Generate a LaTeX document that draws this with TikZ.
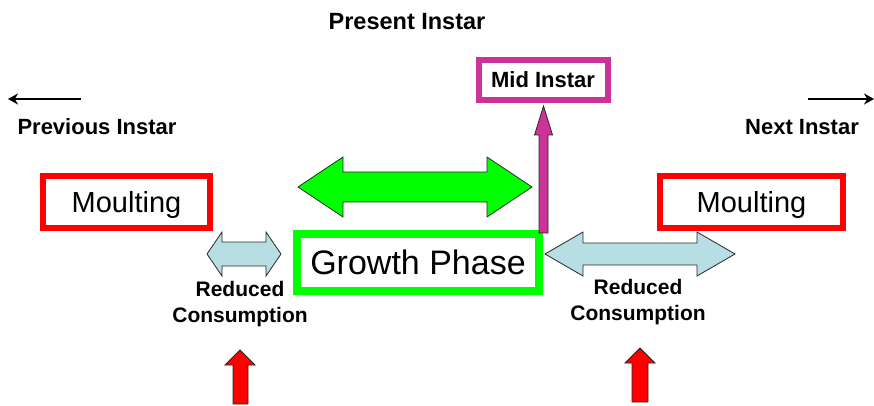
\documentclass[tikz,border=0pt]{standalone}
\usepackage{fontspec}
\setmainfont{Liberation Sans}
\usepackage{tikz}
\usetikzlibrary{arrows.meta,positioning,calc}

\definecolor{midpink}{RGB}{204,51,153}
\definecolor{consblue}{RGB}{183,222,226}
\definecolor{outl}{RGB}{40,40,40}

\begin{document}
\begin{tikzpicture}[x=1pt, y=-1pt,
    lbl/.style={font=\fontsize{22}{26}\selectfont\bfseries, align=center, inner sep=0pt},
    moult/.style={draw=red, line width=6pt, minimum width=170pt, minimum height=52pt, text depth=0pt, font=\fontsize{29}{32}\selectfont},
    blockarrow/.style={draw=outl, line width=0.8pt, line join=miter}]
    \useasboundingbox (0,0) rectangle (874,406);

    % stages along the top
    \node[lbl, font=\fontsize{23.5}{26}\selectfont\bfseries] (present) at (407,22) {Present Instar};
    \node[lbl] (prev) at (97,127) {Previous Instar};
    \node[lbl] (next) at (802,127) {Next Instar};
    \coordinate (prevstart) at (81,99);
    \coordinate (prevend) at (8,99);
    \coordinate (nextstart) at (808,99);
    \coordinate (nextend) at (874,99);
    \draw[line width=2pt, -{Stealth[length=10pt,width=11pt]}] (prevstart) -- (prevend);
    \draw[line width=2pt, -{Stealth[length=10pt,width=11pt]}] (nextstart) -- (nextend);

    % boxes
    \node[moult, minimum width=167pt] (moultL) at (126.5,201.5) {Moulting};
    \node[moult, minimum width=183pt] (moultR) at (751.5,201.5) {Moulting};
    \node[draw=green, line width=8pt, minimum width=242pt, minimum height=57pt, text depth=0pt, font=\fontsize{34}{38}\selectfont] (growth) at (418,262.5) {Growth Phase};
    \node[draw=midpink, line width=6pt, minimum width=129pt, minimum height=40pt, font=\fontsize{22}{26}\selectfont\bfseries] (mid) at (543,80) {Mid Instar};

    % growth phase span
    \draw[blockarrow, fill=green] (298,187) -- (343,157) -- (343,172) -- (487,172) -- (487,157) -- (532,187)
        -- (487,217) -- (487,202) -- (343,202) -- (343,217) -- cycle;

    % growth phase up to mid instar
    \path (mid.south) ++(0.5,3) coordinate (midtip);
    \draw[blockarrow, fill=midpink] (midtip) -- ++(9,29) -- ++(-4.5,0) -- ++(0,98) -- ++(-9,0)
        -- ++(0,-98) -- ++(-4.5,0) -- cycle;

    % reduced consumption spans
    \draw[blockarrow, fill=consblue] (207,254) -- (222,232) -- (222,242) -- (266,242) -- (266,232) -- (281,254)
        -- (266,276) -- (266,266) -- (222,266) -- (222,276) -- cycle;
    \draw[blockarrow, fill=consblue] (545,254) -- (583,232) -- (583,243) -- (697,243) -- (697,232) -- (735,254)
        -- (697,276) -- (697,265) -- (583,265) -- (583,276) -- cycle;
    \node[lbl, font=\fontsize{21}{26}\selectfont\bfseries] (consL) at (240,304) {Reduced\\Consumption};
    \node[lbl, font=\fontsize{21}{26}\selectfont\bfseries] (consR) at (638,302) {Reduced\\Consumption};

    % red markers below
    \draw[blockarrow, fill=red] (240,350) -- (255,365) -- (248,365) -- (248,404) -- (233,404) -- (233,365) -- (225,365) -- cycle;
    \draw[blockarrow, fill=red] (640,348) -- (655,363) -- (648,363) -- (648,402) -- (632,402) -- (632,363) -- (625,363) -- cycle;
\end{tikzpicture}
\end{document}
